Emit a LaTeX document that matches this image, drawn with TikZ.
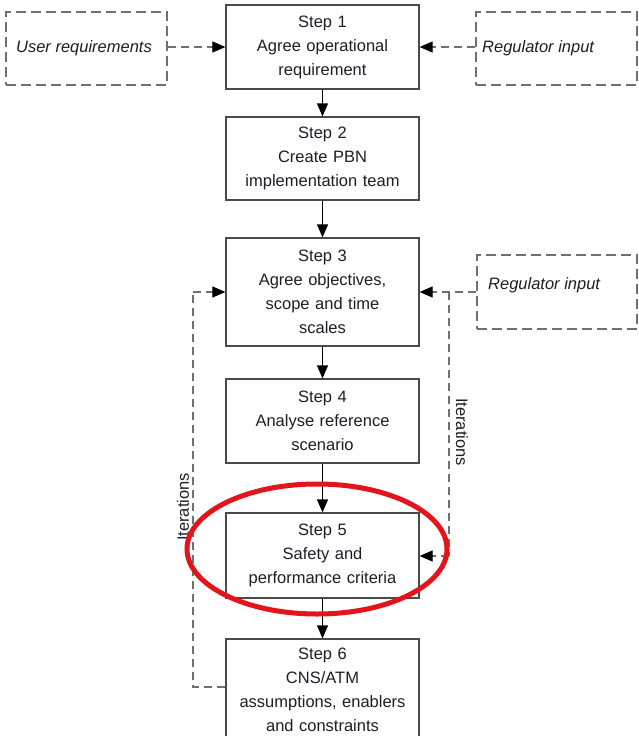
\documentclass[tikz,border=0pt]{standalone}
\usepackage{fontspec}
\setmainfont{Liberation Sans}
\usetikzlibrary{arrows.meta}
\definecolor{boxline}{HTML}{4A4A4A}
\definecolor{dashgrey}{HTML}{707070}
\definecolor{ink}{HTML}{1E1E28}
\definecolor{markred}{HTML}{E3141B}
\tikzset{
  x=1pt, y=-1pt,
  stepbox/.style={draw=boxline, line width=1.2pt, fill=white, minimum width=193pt,
    text width=190pt, align=center, inner sep=0pt, text=ink,
    font=\fontsize{16.5}{24}\selectfont},
  inputbox/.style={draw=dashgrey, dash pattern=on 10pt off 5pt, line width=1.2pt,
    minimum width=161pt, minimum height=73pt, inner sep=0pt},
  inputtext/.style={text=ink, font=\fontsize{16.5}{24}\selectfont\itshape, inner sep=0pt},
  flow/.style={draw=black, line width=1.2pt, -{Triangle[length=13pt,width=11pt]}},
  feed/.style={draw=dashgrey, dash pattern=on 8pt off 5pt, line width=1.1pt},
  feedarrow/.style={feed, -{Triangle[length=13pt,width=11pt,color=black]}},
  iterlabel/.style={text=ink, font=\fontsize{16.5}{20}\selectfont, inner sep=0pt}
}
\begin{document}
\begin{tikzpicture}
\useasboundingbox (0,0) rectangle (639,736);
\clip (0,0) rectangle (639,736);
\fill[white] (0,0) rectangle (639,736);

% main process steps
\node[stepbox, minimum height=84pt] (s1) at (322.5,47) {Step 1\\Agree operational\\requirement};
\node[stepbox, minimum height=83pt] (s2) at (322.5,158.5) {Step 2\\Create PBN\\implementation team};
\node[stepbox, minimum height=108pt] (s3) at (322.5,292) {Step 3\\Agree objectives,\\scope and time\\scales};
\node[stepbox, minimum height=84pt] (s4) at (322.5,421) {Step 4\\Analyse reference\\scenario};
\node[stepbox, minimum height=85pt] (s5) at (322.5,555.5) {Step 5\\Safety and\\performance criteria};
\node[stepbox, minimum height=102pt] (s6) at (322.5,690) {Step 6\\CNS/ATM\\assumptions, enablers\\and constraints};

% external inputs
\node[inputbox] (user) at (86.5,48.5) {};
\node[inputtext] (usertxt) at (84,48) {User requirements};
\node[inputbox] (reg1) at (556.5,48.5) {};
\node[inputtext, anchor=west] (reg1txt) at (482,48) {Regulator input};
\node[inputbox, minimum width=160pt, minimum height=74pt] (reg2) at (557,292) {};
\node[inputtext, anchor=west] (reg2txt) at (488,285) {Regulator input};

% main flow
\draw[flow] (s1) -- (s2);
\draw[flow] (s2) -- (s3);
\draw[flow] (s3) -- (s4);
\draw[flow] (s4) -- (s5);
\draw[flow] (s5) -- (s6);

% inputs into step 1
\draw[feedarrow] (user.east |- s1.west) -- (s1.west);
\draw[feedarrow] (reg1.west |- s1.east) -- (s1.east);

% regulator input into steps 3 and 5
\coordinate (jr) at (449,292);
\coordinate (jrb) at (449,556);
\draw[feedarrow] (reg2.west |- s3.east) -- (s3.east);
\draw[feed] (jr) -- (jrb);
\draw[feedarrow] (jrb) -- (s5.east |- jrb);
\node[iterlabel, rotate=-90] (iterR) at (462,432) {Iterations};

% iteration loop from step 6 back to step 3
\coordinate (lb) at (193,687);
\coordinate (lt) at (193,292);
\draw[feed] (s6.west |- lb) -- (lb) -- (lt);
\draw[feedarrow] (lt) -- (s3.west);
\node[iterlabel, rotate=90] (iterL) at (183,507) {Iterations};

% highlight around step 5
\draw[markred, line width=5pt] (317,549) ellipse [x radius=130, y radius=65];
\end{tikzpicture}
\end{document}
